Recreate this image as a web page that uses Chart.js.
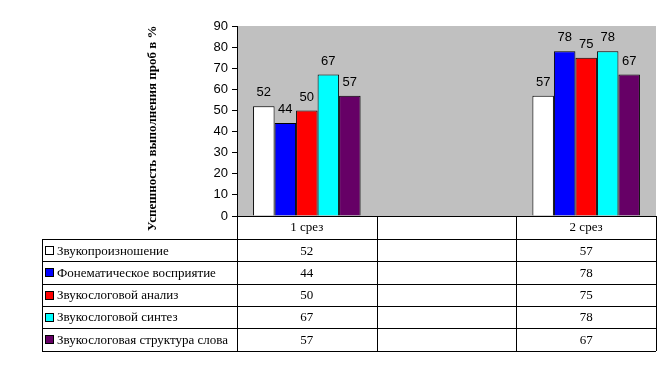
<!DOCTYPE html>
<html>
<head>
<meta charset="utf-8">
<script src="https://cdn.jsdelivr.net/npm/chart.js@4"></script>
<style>
  html, body { margin: 0; padding: 0; background: #fff; }
  canvas { display: block; }
</style>
</head>
<body>
<canvas id="myChart" width="672" height="366"></canvas>
<script>
// categories (middle one is an empty column in the original)
const categories = ['1 срез', '', '2 срез'];
const seriesNames = [
  'Звукопроизношение',
  'Фонематическое восприятие',
  'Звукослоговой анализ',
  'Звукослоговой синтез',
  'Звукослоговая структура слова'
];
const zvukoproiznoshenie = [52, null, 57];
const fonematicheskoe = [44, null, 78];
const analiz = [50, null, 75];
const sintez = [67, null, 78];
const struktura = [57, null, 67];
const seriesColors = ['#FFFFFF', '#0000FF', '#FF0000', '#00FFFF', '#660066'];
const yTitle = 'Успешность выполнения проб в %';

const seriesValues = [zvukoproiznoshenie, fonematicheskoe, analiz, sintez, struktura];

const PLOT_LEFT = 237;
const TABLE_LEFT = 42;
const ROW_H = 22.3;

const tablePlugin = {
  id: 'tablePlugin',
  beforeDraw(chart) { // grey plot background
    const { ctx, chartArea: a } = chart;
    ctx.save();
    ctx.fillStyle = '#C0C0C0';
    ctx.fillRect(a.left, a.top, a.right - a.left, a.bottom - a.top);
    ctx.restore();
  },
  afterDraw(chart) {
    const { ctx, chartArea: a } = chart;
    const x = chart.scales.x;
    ctx.save();

    // data labels above bars
    ctx.font = '13px "Liberation Sans", Arial, sans-serif';
    ctx.fillStyle = '#000';
    ctx.textAlign = 'center';
    ctx.textBaseline = 'bottom';
    chart.data.datasets.forEach((ds, i) => {
      chart.getDatasetMeta(i).data.forEach((bar, j) => {
        if (ds.data[j] == null) return;
        ctx.fillText(String(ds.data[j]), bar.x, bar.y - 7);
      });
    });

    // table under the plot
    const colEdges = [a.left];
    categories.forEach((c, j) => {
      const half = (x.getPixelForValue(1) - x.getPixelForValue(0)) / 2;
      colEdges.push(x.getPixelForValue(j) + half);
    });
    const headTop = a.bottom;
    const bodyTop = headTop + 23;
    const bodyBottom = bodyTop + ROW_H * seriesNames.length;

    ctx.strokeStyle = '#000';
    ctx.lineWidth = 1;
    ctx.beginPath();
    ctx.moveTo(a.left, headTop + 0.5); ctx.lineTo(a.right, headTop + 0.5);
    for (let r = 0; r <= seriesNames.length; r++) {
      const y = Math.round(bodyTop + r * ROW_H) + 0.5;
      ctx.moveTo(TABLE_LEFT, y); ctx.lineTo(a.right, y);
    }
    ctx.moveTo(TABLE_LEFT + 0.5, bodyTop); ctx.lineTo(TABLE_LEFT + 0.5, bodyBottom + 0.5);
    colEdges.forEach(e => {
      const ex = Math.round(e) + 0.5;
      ctx.moveTo(ex, headTop); ctx.lineTo(ex, bodyBottom + 0.5);
    });
    ctx.stroke();

    ctx.font = '13px "Liberation Serif", "Times New Roman", serif';
    ctx.textBaseline = 'middle';
    ctx.textAlign = 'center';
    categories.forEach((c, j) => {
      ctx.fillText(c, x.getPixelForValue(j), headTop + 12);
    });
    seriesNames.forEach((name, r) => {
      const cy = bodyTop + r * ROW_H + ROW_H / 2 + 1;
      ctx.fillStyle = seriesColors[r];
      ctx.fillRect(45.5, Math.round(cy) - 4.5, 8, 8);
      ctx.strokeRect(45.5, Math.round(cy) - 4.5, 8, 8);
      ctx.fillStyle = '#000';
      ctx.textAlign = 'left';
      ctx.fillText(name, 57, cy);
      ctx.textAlign = 'center';
      seriesValues[r].forEach((v, j) => {
        if (v == null) return;
        ctx.fillText(String(v), x.getPixelForValue(j), cy);
      });
    });

    // y axis title (cut at the top like in the original)
    ctx.beginPath();
    ctx.rect(0, 22, a.left, 260);
    ctx.clip();
    ctx.translate(153, 231);
    ctx.rotate(-Math.PI / 2);
    ctx.font = 'bold 13px "Liberation Serif", "Times New Roman", serif';
    ctx.textAlign = 'left';
    ctx.textBaseline = 'middle';
    ctx.fillText(yTitle, 0, 0);
    ctx.restore();
  }
};

const ctx = document.getElementById('myChart').getContext('2d');
new Chart(ctx, {
  type: 'bar',
  data: {
    labels: categories,
    datasets: seriesNames.map((name, i) => ({
      label: name,
      data: seriesValues[i],
      backgroundColor: seriesColors[i],
      borderColor: '#000',
      borderWidth: 1,
      barPercentage: 1,
      categoryPercentage: 0.77
    }))
  },
  options: {
    responsive: false,
    animation: false,
    layout: { padding: { left: 0, right: 16, top: 26, bottom: 150 } },
    plugins: { legend: { display: false }, tooltip: { enabled: false } },
    scales: {
      x: { display: false },
      y: {
        min: 0,
        max: 90,
        afterFit(scale) { scale.width = PLOT_LEFT; },
        ticks: {
          stepSize: 10,
          color: '#000',
          padding: 4,
          font: { family: '"Liberation Sans", Arial, sans-serif', size: 13 }
        },
        grid: { drawOnChartArea: false, drawTicks: true, tickLength: 5, color: '#000' },
        border: { color: '#000' }
      }
    }
  },
  plugins: [tablePlugin]
});
</script>
</body>
</html>
